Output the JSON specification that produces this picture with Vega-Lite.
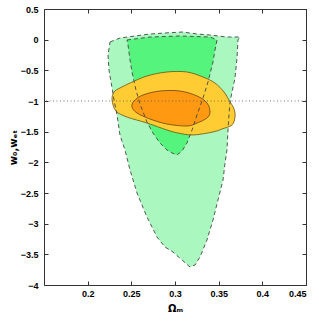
{
  "$schema": "https://vega.github.io/schema/vega-lite/v6.json",
  "width": 262,
  "height": 276,
  "autosize": {"type": "none"},
  "padding": {"left": 44, "top": 9, "right": 13, "bottom": 36},
  "background": "white",
  "config": {
    "view": {"stroke": null},
    "axis": {
      "grid": false,
      "domainColor": "#333333",
      "domainWidth": 1,
      "tickColor": "#333333",
      "tickSize": -4,
      "labelFont": "Liberation Sans",
      "labelFontSize": 9,
      "labelFontWeight": "bold",
      "labelColor": "#000000",
      "titleFont": "DejaVu Sans",
      "titleFontSize": 10,
      "titleFontWeight": "bold",
      "titleColor": "#000000"
    }
  },
  "datasets": {
    "lg": [
      {"i": 0, "x": 0.2256, "y": -0.038},
      {"i": 1, "x": 0.2370, "y": 0.027},
      {"i": 2, "x": 0.2542, "y": 0.060},
      {"i": 3, "x": 0.2714, "y": 0.092},
      {"i": 4, "x": 0.2885, "y": 0.109},
      {"i": 5, "x": 0.3092, "y": 0.125},
      {"i": 6, "x": 0.3252, "y": 0.092},
      {"i": 7, "x": 0.3401, "y": 0.076},
      {"i": 8, "x": 0.3595, "y": 0.043},
      {"i": 9, "x": 0.3744, "y": 0.043},
      {"i": 10, "x": 0.3721, "y": -0.005},
      {"i": 11, "x": 0.3710, "y": -0.299},
      {"i": 12, "x": 0.3687, "y": -0.625},
      {"i": 13, "x": 0.3653, "y": -0.853},
      {"i": 14, "x": 0.3630, "y": -1.016},
      {"i": 15, "x": 0.3618, "y": -1.228},
      {"i": 16, "x": 0.3607, "y": -1.473},
      {"i": 17, "x": 0.3595, "y": -1.799},
      {"i": 18, "x": 0.3573, "y": -2.011},
      {"i": 19, "x": 0.3550, "y": -2.288},
      {"i": 20, "x": 0.3492, "y": -2.614},
      {"i": 21, "x": 0.3435, "y": -2.940},
      {"i": 22, "x": 0.3366, "y": -3.266},
      {"i": 23, "x": 0.3286, "y": -3.543},
      {"i": 24, "x": 0.3229, "y": -3.674},
      {"i": 25, "x": 0.3172, "y": -3.707},
      {"i": 26, "x": 0.3080, "y": -3.592},
      {"i": 27, "x": 0.2977, "y": -3.462},
      {"i": 28, "x": 0.2885, "y": -3.380},
      {"i": 29, "x": 0.2794, "y": -3.217},
      {"i": 30, "x": 0.2679, "y": -2.891},
      {"i": 31, "x": 0.2565, "y": -2.500},
      {"i": 32, "x": 0.2485, "y": -2.125},
      {"i": 33, "x": 0.2427, "y": -1.799},
      {"i": 34, "x": 0.2370, "y": -1.554},
      {"i": 35, "x": 0.2336, "y": -1.228},
      {"i": 36, "x": 0.2302, "y": -0.984},
      {"i": 37, "x": 0.2279, "y": -0.788},
      {"i": 38, "x": 0.2244, "y": -0.495},
      {"i": 39, "x": 0.2233, "y": -0.250}
    ],
    "dg": [
      {"i": 0, "x": 0.2450, "y": -0.005},
      {"i": 1, "x": 0.2714, "y": 0.043},
      {"i": 2, "x": 0.3057, "y": 0.060},
      {"i": 3, "x": 0.3401, "y": 0.043},
      {"i": 4, "x": 0.3481, "y": -0.005},
      {"i": 5, "x": 0.3458, "y": -0.168},
      {"i": 6, "x": 0.3435, "y": -0.364},
      {"i": 7, "x": 0.3378, "y": -0.690},
      {"i": 8, "x": 0.3321, "y": -0.951},
      {"i": 9, "x": 0.3252, "y": -1.228},
      {"i": 10, "x": 0.3195, "y": -1.473},
      {"i": 11, "x": 0.3137, "y": -1.685},
      {"i": 12, "x": 0.3080, "y": -1.815},
      {"i": 13, "x": 0.3023, "y": -1.880},
      {"i": 14, "x": 0.2966, "y": -1.848},
      {"i": 15, "x": 0.2908, "y": -1.799},
      {"i": 16, "x": 0.2828, "y": -1.685},
      {"i": 17, "x": 0.2748, "y": -1.522},
      {"i": 18, "x": 0.2679, "y": -1.342},
      {"i": 19, "x": 0.2599, "y": -1.049},
      {"i": 20, "x": 0.2553, "y": -0.821},
      {"i": 21, "x": 0.2508, "y": -0.527},
      {"i": 22, "x": 0.2485, "y": -0.332},
      {"i": 23, "x": 0.2462, "y": -0.087}
    ],
    "yo": [
      {"i": 0, "x": 0.2279, "y": -0.984},
      {"i": 1, "x": 0.2302, "y": -0.853},
      {"i": 2, "x": 0.2370, "y": -0.788},
      {"i": 3, "x": 0.2485, "y": -0.707},
      {"i": 4, "x": 0.2679, "y": -0.592},
      {"i": 5, "x": 0.2908, "y": -0.527},
      {"i": 6, "x": 0.3137, "y": -0.527},
      {"i": 7, "x": 0.3321, "y": -0.609},
      {"i": 8, "x": 0.3458, "y": -0.707},
      {"i": 9, "x": 0.3561, "y": -0.853},
      {"i": 10, "x": 0.3618, "y": -0.984},
      {"i": 11, "x": 0.3676, "y": -1.130},
      {"i": 12, "x": 0.3687, "y": -1.261},
      {"i": 13, "x": 0.3653, "y": -1.391},
      {"i": 14, "x": 0.3538, "y": -1.457},
      {"i": 15, "x": 0.3435, "y": -1.505},
      {"i": 16, "x": 0.3206, "y": -1.554},
      {"i": 17, "x": 0.3034, "y": -1.522},
      {"i": 18, "x": 0.2908, "y": -1.473},
      {"i": 19, "x": 0.2679, "y": -1.359},
      {"i": 20, "x": 0.2450, "y": -1.261},
      {"i": 21, "x": 0.2324, "y": -1.163}
    ],
    "or": [
      {"i": 0, "x": 0.2508, "y": -1.098},
      {"i": 1, "x": 0.2531, "y": -1.000},
      {"i": 2, "x": 0.2634, "y": -0.902},
      {"i": 3, "x": 0.2828, "y": -0.837},
      {"i": 4, "x": 0.3057, "y": -0.837},
      {"i": 5, "x": 0.3252, "y": -0.918},
      {"i": 6, "x": 0.3366, "y": -1.033},
      {"i": 7, "x": 0.3401, "y": -1.179},
      {"i": 8, "x": 0.3366, "y": -1.277},
      {"i": 9, "x": 0.3252, "y": -1.359},
      {"i": 10, "x": 0.3137, "y": -1.408},
      {"i": 11, "x": 0.2908, "y": -1.375},
      {"i": 12, "x": 0.2714, "y": -1.294},
      {"i": 13, "x": 0.2565, "y": -1.196}
    ],
    "ref": [{"w": -1}]
  },
  "resolve": {"axis": {"x": "independent", "y": "independent"}},
  "layer": [
    {
      "data": {"name": "lg"},
      "mark": {"type": "line", "interpolate": "linear-closed", "fill": "#aaf8c0", "stroke": null, "strokeWidth": 0},
      "encoding": {
        "x": {"field": "x", "type": "quantitative", "scale": {"domain": [0.15, 0.45], "nice": false, "zero": false},
          "axis": {"orient": "bottom", "values": [0.2, 0.25, 0.3, 0.35, 0.4, 0.45], "format": "~g", "labelPadding": 8, "title": "Ωₘ", "titleX": 131, "titleY": 26, "titleBaseline": "alphabetic", "titleAnchor": "middle", "titleAlign": "center"}},
        "y": {"field": "y", "type": "quantitative", "scale": {"domain": [-4, 0.5], "nice": false, "zero": false},
          "axis": {"orient": "left", "values": [-4, -3.5, -3, -2.5, -2, -1.5, -1, -0.5, 0, 0.5], "format": "~g", "labelPadding": 10, "title": "w₀,wₑₜ", "titleX": -28, "titleY": 138, "titleAngle": -90, "titleAlign": "center", "titleBaseline": "alphabetic"}},
        "order": {"field": "i", "type": "quantitative"}
      }
    },
    {
      "data": {"name": "dg"},
      "mark": {"type": "line", "interpolate": "linear-closed", "fill": "#55f47c", "stroke": null, "strokeWidth": 0},
      "encoding": {
        "x": {"field": "x", "type": "quantitative", "axis": null},
        "y": {"field": "y", "type": "quantitative", "axis": null},
        "order": {"field": "i", "type": "quantitative"}
      }
    },
    {
      "data": {"name": "yo"},
      "mark": {"type": "line", "interpolate": "cardinal-closed", "fill": "#ffcc33", "stroke": "#6b5310", "strokeWidth": 0.8},
      "encoding": {
        "x": {"field": "x", "type": "quantitative", "axis": null},
        "y": {"field": "y", "type": "quantitative", "axis": null},
        "order": {"field": "i", "type": "quantitative"}
      }
    },
    {
      "data": {"name": "or"},
      "mark": {"type": "line", "interpolate": "cardinal-closed", "fill": "#ff9912", "stroke": "#6b4010", "strokeWidth": 0.8},
      "encoding": {
        "x": {"field": "x", "type": "quantitative", "axis": null},
        "y": {"field": "y", "type": "quantitative", "axis": null},
        "order": {"field": "i", "type": "quantitative"}
      }
    },
    {
      "data": {"name": "lg"},
      "mark": {"type": "line", "interpolate": "linear-closed", "stroke": "#444444", "strokeWidth": 0.9, "strokeDash": [4, 3]},
      "encoding": {
        "x": {"field": "x", "type": "quantitative", "axis": null},
        "y": {"field": "y", "type": "quantitative", "axis": null},
        "order": {"field": "i", "type": "quantitative"}
      }
    },
    {
      "data": {"name": "dg"},
      "mark": {"type": "line", "interpolate": "linear-closed", "stroke": "#444444", "strokeWidth": 0.9, "strokeDash": [4, 3]},
      "encoding": {
        "x": {"field": "x", "type": "quantitative", "axis": null},
        "y": {"field": "y", "type": "quantitative", "axis": null},
        "order": {"field": "i", "type": "quantitative"}
      }
    },
    {
      "data": {"name": "ref"},
      "mark": {"type": "rule", "stroke": "#555555", "strokeWidth": 0.8, "strokeDash": [1, 2.5]},
      "encoding": {
        "y": {"field": "w", "type": "quantitative", "axis": null}
      }
    },
    {
      "data": {"name": "lg"},
      "mark": {"type": "point", "opacity": 0},
      "encoding": {
        "x": {"field": "x", "type": "quantitative",
          "axis": {"orient": "top", "values": [0.2, 0.25, 0.3, 0.35, 0.4, 0.45], "labels": false, "title": null}},
        "y": {"field": "y", "type": "quantitative",
          "axis": {"orient": "right", "values": [-4, -3.5, -3, -2.5, -2, -1.5, -1, -0.5, 0, 0.5], "labels": false, "title": null}}
      }
    }
  ]
}
